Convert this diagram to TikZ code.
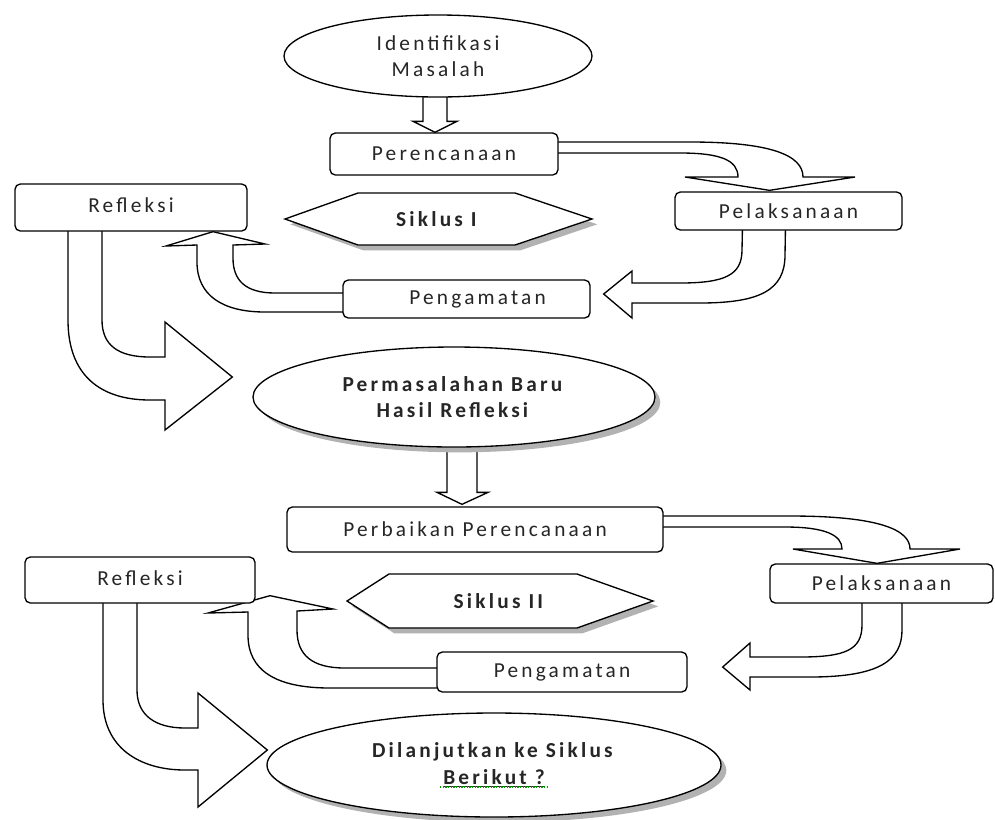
\documentclass[tikz,border=0pt]{standalone}
\usepackage{fontspec}
\setmainfont{Carlito}[LetterSpace=15]
\usetikzlibrary{shapes.geometric,shadows,calc}
\tikzstyle{box} = [draw, rounded corners=4pt, line width=1pt, fill=white, text=black!85, inner sep=0pt]
\tikzstyle{oval} = [draw, ellipse, line width=1pt, fill=white, text=black!85, align=center, inner sep=0pt]
\tikzstyle{fat} = [draw, line width=1pt, fill=white, line join=miter]
\tikzstyle{shade} = [drop shadow={shadow xshift=4pt, shadow yshift=-4pt, fill=black!30, opacity=1}]
\pgfdeclarelayer{bg}
\pgfsetlayers{bg,main}

\begin{document}
\begin{tikzpicture}[x=0.75pt, y=-0.75pt, font=\fontsize{16}{20}\selectfont]
\useasboundingbox (0,0) rectangle (995,819);

\node[oval, minimum width=231pt, minimum height=61.5pt] (idm) at (438,56) {Identifikasi\\Masalah};
\node[box, minimum width=171pt, minimum height=31.5pt] (plan) at (444,154) {Perencanaan};
\node[box, minimum width=170.25pt, minimum height=28.5pt] (act1) at (788.5,211) {Pelaksanaan};
\node[box, minimum width=185.25pt, minimum height=28.5pt, text width=175pt, align=right] (obs1) at (466.5,299) {Pengamatan\hspace*{28pt}};
\node[box, minimum width=174pt, minimum height=35.25pt] (ref1) at (131,207.5) {\raisebox{4pt}{Refleksi}};
\draw[line width=1pt, fill=white, shade] (285,219) -- (358,193) -- (515,193) -- (592,219) -- (515,245) -- (358,245) -- cycle;
\node[text=black!85] (cyc1) at (438,219) {\textbf{Siklus I}};
\node[oval, shade, minimum width=301.5pt, minimum height=75pt] (prob) at (454,397) {\textbf{Permasalahan Baru}\\\textbf{Hasil Refleksi}};

\node[box, minimum width=282pt, minimum height=33.75pt] (plan2) at (475,529.5) {Perbaikan Perencanaan};
\node[box, minimum width=167.25pt, minimum height=29.25pt] (act2) at (881.5,583.5) {Pelaksanaan};
\node[box, minimum width=187.5pt, minimum height=30pt] (obs2) at (562,672) {Pengamatan};
\node[box, minimum width=172.5pt, minimum height=34.5pt] (ref2) at (140,580) {\raisebox{3pt}{Refleksi}};
\draw[line width=1pt, fill=white, shade] (347,601) -- (389,574) -- (577,574) -- (653,601) -- (577,628) -- (389,628) -- cycle;
\node[text=black!85] (cyc2) at (500,601) {\textbf{Siklus II}};
\node[oval, shade, minimum width=340.5pt, minimum height=78pt] (next) at (494,765) {\textbf{Dilanjutkan ke Siklus}\\\textbf{\underline{Berikut ?}}};
\draw[green!60!black, densely dotted, line width=1pt] ($(next.center)+(-54,22)$) -- ($(next.center)+(53,22)$);

\begin{pgfonlayer}{bg}
\draw[fat] ($(idm.south)+(-15,-5)$) -- ($(idm.south |- plan.north)+(-15,-11)$) -- ++(-10,0) -- ($(idm.south |- plan.north)+(-3,0)$) -- ++(22,-11) -- ++(-10,0) -- ($(idm.south)+(9,-5)$);
\draw[fat] ($(plan.east)+(-5,-12)$) -- (690,142) .. controls (770,142) and (803,155) .. (803,177) -- (855,177) -- ($(act1.north)+(-19,-1)$) -- (685,177) -- (738,177) .. controls (738,160) and (720,153) .. (680,153) -- ($(plan.east)+(-5,-1)$);
\draw[fat] ($(act1.south)+(-46,-5)$) -- (742,250) .. controls (742,275) and (725,283) .. (680,283) -- (632,283) -- (632,271) -- ($(obs1.east)+(13,-5)$) -- (632,318) -- (632,303) -- (700,303) .. controls (760,303) and (785,290) .. (785,255) -- ($(act1.south)+(-3,-5)$);
\draw[fat] ($(obs1.west)+(5,-6)$) -- (275,293) .. controls (245,293) and (233,280) .. (233,258) -- (233,245) -- (265,244) -- ($(ref1.south)+(82,0)$) -- (166,246) -- (197,245) -- (197,262) .. controls (197,295) and (222,312) .. (265,312) -- ($(obs1.west)+(5,13)$);
\draw[fat] ($(ref1.south)+(-63,-5)$) -- (68,320) .. controls (68,375) and (100,400) .. (150,400) -- (165,400) -- (165,430) -- ($(prob.west)+(-20,-20)$) -- (165,322) -- (165,357) -- (150,357) .. controls (118,357) and (102,345) .. (102,320) -- ($(ref1.south)+(-29,-5)$);

\draw[fat] ($(prob.south)+(-7,-5)$) -- ($(prob.south |- plan2.north)+(-7,-14)$) -- ++(-10,0) -- ($(prob.south |- plan2.north)+(8,-2)$) -- ++(26,-12) -- ++(-11,0) -- ($(prob.south)+(23,-5)$);
\draw[fat] ($(plan2.east)+(-5,-13.5)$) -- (790,516) .. controls (880,516) and (910,530) .. (910,549) -- (960,549) -- ($(act2.north)+(-4.5,0)$) -- (793,549) -- (842,549) .. controls (842,535) and (825,527) .. (785,527) -- ($(plan2.east)+(-5,-2.5)$);
\draw[fat] ($(act2.south)+(-19.5,-5)$) -- (862,625) .. controls (862,650) and (845,657) .. (800,657) -- (750,657) -- (750,643) -- ($(obs2.east)+(35,-5)$) -- (750,690) -- (750,677) -- (810,677) .. controls (880,677) and (902,660) .. (902,630) -- ($(act2.south)+(20.5,-5)$);
\draw[fat] ($(obs2.west)+(5,-4)$) -- (345,668) .. controls (312,668) and (297,655) .. (297,630) -- (297,611) -- (333,609) -- ($(ref2.south)+(130,-8)$) -- (208,613) -- (248,612) -- (248,635) .. controls (248,670) and (275,688) .. (330,688) -- ($(obs2.west)+(5,16)$);
\draw[fat] ($(ref2.south)+(-37,-5)$) -- (103,700) .. controls (103,748) and (140,770) .. (185,770) -- (198,770) -- (198,807) -- ($(next.west)+(1,-15)$) -- (198,693) -- (198,728) -- (185,728) .. controls (155,728) and (137,715) .. (137,690) -- ($(ref2.south)+(-3,-5)$);
\end{pgfonlayer}
\end{tikzpicture}
\end{document}
